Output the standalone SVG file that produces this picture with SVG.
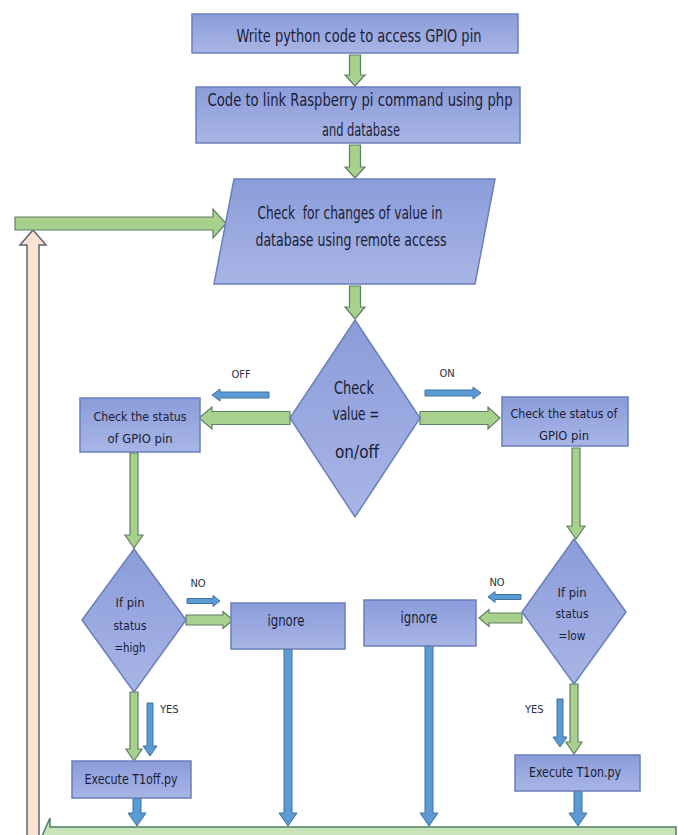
<svg xmlns="http://www.w3.org/2000/svg" width="678" height="835" viewBox="0 0 678 835">
<defs>
<linearGradient id="bg" x1="0" y1="0" x2="0" y2="1">
<stop offset="0" stop-color="#8b9cd9"/>
<stop offset="1" stop-color="#a8b5e6"/>
</linearGradient>
<style>
.box{fill:url(#bg);stroke:#6a7fba;stroke-width:1.5}
.t{font-family:"Liberation Sans Narrow","DejaVu Sans Condensed","Liberation Sans",sans-serif;fill:#1a1d36;text-anchor:middle}
.lb{font-family:"Liberation Sans Narrow","DejaVu Sans Condensed","Liberation Sans",sans-serif;fill:#2a2f40;font-size:11px}
.g{fill:#a9d18e;stroke:#5f7f62;stroke-width:1.2}
.b{fill:#5b9bd5;stroke:#41719c;stroke-width:1}
.p{fill:#fbe2d2;stroke:#5c6670;stroke-width:1.5}
.gb{fill:#c8e4b8;stroke:#4f7f6a;stroke-width:1.5}
</style>
</defs>
<rect width="678" height="835" fill="#ffffff"/>

<g id="connectors">
<path class="p" d="M27,850 V245 H20 L33,230 L46,245 H39 V850 Z"/>
<path class="g" d="M15,217 H213 V209 L226,223.5 L213,238 V230 H15 Z"/>
<path class="g" d="M349.5,55 H360.5 V75 H365 L355,86 L345,75 H349.5 Z"/>
<path class="g" d="M349.5,145 H360.5 V167 H365 L355,178 L345,167 H349.5 Z"/>
<path class="g" d="M349.5,286 H360.5 V307 H365 L355,319 L345,307 H349.5 Z"/>
<path class="g" d="M290,411.5 H212 V407 L199,418 L212,429 V424.5 H290 Z"/>
<path class="g" d="M420,411.5 H488 V407 L500,418 L488,429 V424.5 H420 Z"/>
<path class="b" d="M269,392 H220 V389 L212,395 L220,401 V398 H269 Z"/>
<path class="b" d="M425,390 H473 V387 L481,393 L473,399 V396 H425 Z"/>
<path class="g" d="M130,453 H138 V535 H143 L134,548 L125,535 H130 Z"/>
<path class="g" d="M572,448 H580 V526 H585 L576,539 L567,526 H572 Z"/>
<path class="b" d="M187,598.5 H213 V595.5 L220,601 L213,606.5 V603.5 H187 Z"/>
<path class="g" d="M186,615 H223 V611.5 L233,620 L223,628.5 V625 H186 Z"/>
<path class="b" d="M521,594.5 H495 V591.5 L488,597 L495,602.5 V599.5 H521 Z"/>
<path class="g" d="M522,613 H489 V609.5 L479,618 L489,626.5 V623 H522 Z"/>
<path class="g" d="M130,692 H138 V749 H142 L134,761 L126,749 H130 Z"/>
<path class="b" d="M147,703 H153 V746 H157 L150,756 L143,746 H147 Z"/>
<path class="g" d="M570,684 H578 V742 H582 L574,754 L566,742 H570 Z"/>
<path class="b" d="M557,699 H563 V737 H567 L560,747 L553,737 H557 Z"/>
<path class="b" d="M133,798 H141 V813 H146 L137,826 L128,813 H133 Z"/>
<path class="b" d="M284,649 H292 V813 H297 L288,826 L279,813 H284 Z"/>
<path class="b" d="M425,646 H433 V813 H438 L429,826 L420,813 H425 Z"/>
<path class="b" d="M574,791 H582 V813 H587 L578,826 L569,813 H574 Z"/>
<path class="gb" d="M676,827 H50 V818 L38,845 L50,872 V863 H676 Z"/>
<text class="lb" x="241" y="378" text-anchor="middle">OFF</text>
<text class="lb" x="447" y="377" text-anchor="middle">ON</text>
<text class="lb" x="198" y="587" text-anchor="middle">NO</text>
<text class="lb" x="497" y="586" text-anchor="middle">NO</text>
<text class="lb" x="160" y="713">YES</text>
<text class="lb" x="525" y="713">YES</text>
</g>

<g id="n1">
<rect class="box" x="192" y="14" width="326" height="39"/>
<text class="t" x="359" y="42" font-size="17" textLength="245" lengthAdjust="spacingAndGlyphs">Write python code to access GPIO pin</text>
</g>
<g id="n2">
<rect class="box" x="196" y="87" width="324" height="56"/>
<text class="t" x="360" y="106" font-size="17" textLength="305" lengthAdjust="spacingAndGlyphs">Code to link Raspberry pi command using php</text>
<text class="t" x="361" y="136" font-size="17" textLength="78" lengthAdjust="spacingAndGlyphs">and database</text>
</g>
<g id="n3">
<path class="box" d="M234,179 H495 L475,284 H214 Z"/>
<text class="t" x="350" y="219" font-size="17" textLength="185" lengthAdjust="spacingAndGlyphs" xml:space="preserve">Check  for changes of value in</text>
<text class="t" x="351" y="246" font-size="17" textLength="191" lengthAdjust="spacingAndGlyphs">database using remote access</text>
</g>
<g id="n4">
<path class="box" d="M355,320 L420,418 L355,517 L290,418 Z"/>
<text class="t" x="354" y="394" font-size="18" textLength="40" lengthAdjust="spacingAndGlyphs">Check</text>
<text class="t" x="356" y="420" font-size="18" textLength="47" lengthAdjust="spacingAndGlyphs">value =</text>
<text class="t" x="357" y="458" font-size="18" textLength="44" lengthAdjust="spacingAndGlyphs">on/off</text>
</g>
<g id="n5">
<rect class="box" x="80" y="398" width="120" height="54"/>
<text class="t" x="140" y="421" font-size="13" textLength="93" lengthAdjust="spacingAndGlyphs">Check the status</text>
<text class="t" x="140" y="443" font-size="13" textLength="65" lengthAdjust="spacingAndGlyphs">of GPIO pin</text>
</g>
<g id="n6">
<rect class="box" x="502" y="397" width="126" height="49"/>
<text class="t" x="564" y="418" font-size="13" textLength="107" lengthAdjust="spacingAndGlyphs">Check the status of</text>
<text class="t" x="564" y="440" font-size="13" textLength="50" lengthAdjust="spacingAndGlyphs">GPIO pin</text>
</g>
<g id="n7">
<path class="box" d="M134,549 L186,620 L134,692 L82,620 Z"/>
<text class="t" x="130" y="607" font-size="13" textLength="29" lengthAdjust="spacingAndGlyphs">If pin</text>
<text class="t" x="130" y="630" font-size="13" textLength="33" lengthAdjust="spacingAndGlyphs">status</text>
<text class="t" x="130" y="652" font-size="13" textLength="31" lengthAdjust="spacingAndGlyphs">=high</text>
</g>
<g id="n8">
<rect class="box" x="231" y="603" width="114" height="46"/>
<text class="t" x="286" y="626" font-size="16" textLength="37" lengthAdjust="spacingAndGlyphs">ignore</text>
</g>
<g id="n9">
<rect class="box" x="364" y="600" width="112" height="46"/>
<text class="t" x="419" y="623" font-size="16" textLength="37" lengthAdjust="spacingAndGlyphs">ignore</text>
</g>
<g id="n10">
<path class="box" d="M574,539 L626,612 L574,684 L522,612 Z"/>
<text class="t" x="572" y="597" font-size="13" textLength="29" lengthAdjust="spacingAndGlyphs">If pin</text>
<text class="t" x="572" y="618" font-size="13" textLength="33" lengthAdjust="spacingAndGlyphs">status</text>
<text class="t" x="572" y="640" font-size="13" textLength="27" lengthAdjust="spacingAndGlyphs">=low</text>
</g>
<g id="n11">
<rect class="box" x="72" y="761" width="119" height="37"/>
<text class="t" x="131" y="784" font-size="14" textLength="93" lengthAdjust="spacingAndGlyphs">Execute T1off.py</text>
</g>
<g id="n12">
<rect class="box" x="515" y="755" width="125" height="36"/>
<text class="t" x="575" y="777" font-size="14" textLength="92" lengthAdjust="spacingAndGlyphs">Execute T1on.py</text>
</g>
</svg>
